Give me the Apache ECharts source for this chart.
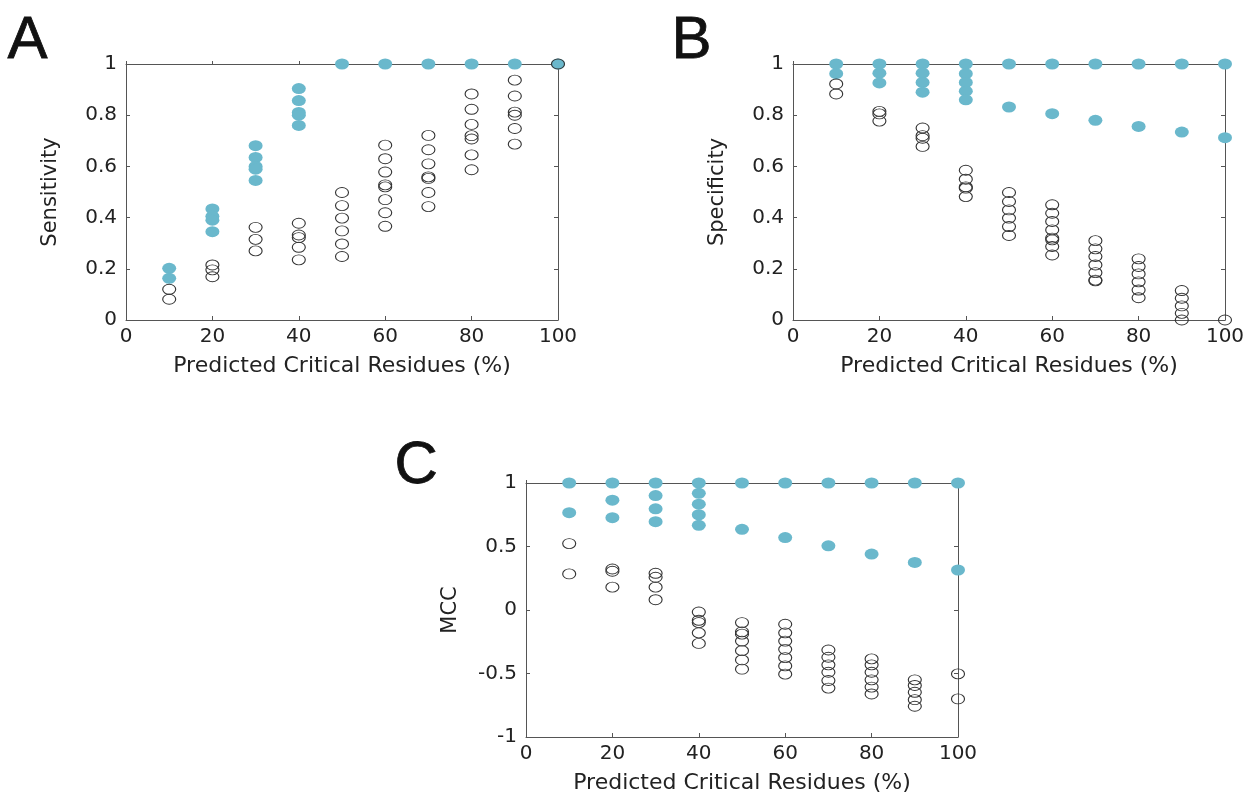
<!DOCTYPE html>
<html>
<head>
<meta charset="utf-8">
<script src="https://cdn.jsdelivr.net/npm/echarts@6/dist/echarts.min.js"></script>
<style>
html,body{margin:0;padding:0;background:#fff;}
#c{width:1251px;height:795px;}
</style>
</head>
<body>
<div id="c"></div>
<script>
// x categories (Predicted Critical Residues %)
var xs = [10, 20, 30, 40, 50, 60, 70, 80, 90, 100];

// Panel A: Sensitivity
var sensFilled = [
  [0.202, 0.163],
  [0.434, 0.405, 0.39, 0.345],
  [0.681, 0.635, 0.60, 0.589, 0.545],
  [0.904, 0.857, 0.811, 0.80, 0.76],
  [1], [1], [1], [1], [1], [1]
];
var sensOpen = [
  [0.12, 0.081],
  [0.215, 0.196, 0.169],
  [0.362, 0.315, 0.27],
  [0.378, 0.332, 0.322, 0.284, 0.235],
  [0.498, 0.447, 0.398, 0.348, 0.297, 0.248],
  [0.683, 0.63, 0.578, 0.528, 0.52, 0.47, 0.419, 0.366],
  [0.721, 0.665, 0.61, 0.559, 0.553, 0.498, 0.443],
  [0.883, 0.823, 0.764, 0.72, 0.707, 0.645, 0.587],
  [0.937, 0.875, 0.812, 0.80, 0.748, 0.687],
  [1]
];

// Panel B: Specificity
var specFilled = [
  [1, 0.962],
  [1, 0.964, 0.926],
  [1, 0.964, 0.928, 0.89],
  [1, 0.962, 0.928, 0.894, 0.86],
  [1, 0.832],
  [1, 0.806],
  [1, 0.78],
  [1, 0.756],
  [1, 0.734],
  [1, 0.712]
];
var specOpen = [
  [0.922, 0.883],
  [0.815, 0.805, 0.777],
  [0.75, 0.72, 0.71, 0.678],
  [0.585, 0.55, 0.52, 0.515, 0.482],
  [0.498, 0.463, 0.43, 0.398, 0.365, 0.33],
  [0.45, 0.417, 0.385, 0.352, 0.32, 0.313, 0.287, 0.254],
  [0.31, 0.278, 0.248, 0.215, 0.185, 0.156, 0.153],
  [0.239, 0.209, 0.18, 0.149, 0.117, 0.087],
  [0.115, 0.085, 0.055, 0.026, 0.0],
  [0.0]
];

// Panel C: MCC
var mccFilled = [
  [1, 0.766],
  [1, 0.865, 0.727],
  [1, 0.901, 0.797, 0.695],
  [1, 0.919, 0.833, 0.75, 0.667],
  [1, 0.635],
  [1, 0.57],
  [1, 0.505],
  [1, 0.44],
  [1, 0.375],
  [1, 0.315]
];
var mccOpen = [
  [0.523, 0.284],
  [0.323, 0.305, 0.18],
  [0.289, 0.258, 0.18, 0.081],
  [-0.016, -0.081, -0.099, -0.18, -0.263],
  [-0.099, -0.172, -0.19, -0.245, -0.32, -0.393, -0.466],
  [-0.112, -0.18, -0.245, -0.31, -0.375, -0.44, -0.505],
  [-0.315, -0.372, -0.432, -0.49, -0.555, -0.615],
  [-0.385, -0.432, -0.49, -0.55, -0.607, -0.661],
  [-0.55, -0.594, -0.648, -0.706, -0.758],
  [-0.503, -0.70]
];

var panelLetters = ['A', 'B', 'C'];
var yNames = ['Sensitivity', 'Specificity', 'MCC'];
var xName = 'Predicted Critical Residues (%)';

function flatten(groups) {
  var out = [];
  groups.forEach(function (vals, i) {
    vals.forEach(function (v) { out.push([xs[i], v]); });
  });
  return out;
}

var FONT = '"DejaVu Sans", Verdana, sans-serif';
var LFONT = '"Liberation Sans", Arial, Helvetica, sans-serif';
var AXC = '#555';
var TXT = '#222';
var FILL = '#6ab8cc';

var grids = [
  {left: 126, top: 64, width: 432, height: 256},
  {left: 793, top: 64, width: 432, height: 256},
  {left: 526, top: 483, width: 432, height: 256}
];
var yRanges = [[0, 1, 0.2], [0, 1, 0.2], [-1, 1, 0.5]];

var xAxes = [], yAxes = [], series = [];
grids.forEach(function (g, i) {
  xAxes.push({
    gridIndex: i, type: 'value', min: 0, max: 100, interval: 20, position: 'bottom',
    name: xName, nameLocation: 'middle', nameGap: 35,
    nameTextStyle: {fontFamily: FONT, fontSize: 22, color: TXT},
    axisLine: {show: true, onZero: false, lineStyle: {color: AXC, width: 1}},
    axisTick: {show: true, inside: true, length: 4, lineStyle: {color: AXC}},
    axisLabel: {fontFamily: FONT, fontSize: 20, color: TXT, margin: 7},
    splitLine: {show: false}
  });
  xAxes.push({
    gridIndex: i, type: 'value', min: 0, max: 100, interval: 20, position: 'top',
    axisLine: {show: true, onZero: false, lineStyle: {color: AXC, width: 1}},
    axisTick: {show: true, inside: false, length: 3, lineStyle: {color: AXC}},
    axisLabel: {show: false}, splitLine: {show: false}
  });
  var r = yRanges[i];
  yAxes.push({
    gridIndex: i, type: 'value', min: r[0], max: r[1], interval: r[2], position: 'left',
    name: yNames[i], nameLocation: 'middle', nameGap: 65,
    nameTextStyle: {fontFamily: FONT, fontSize: 21, color: TXT},
    axisLine: {show: true, onZero: false, lineStyle: {color: AXC, width: 1}},
    axisTick: {show: true, inside: true, length: 4, lineStyle: {color: AXC}},
    axisLabel: {fontFamily: FONT, fontSize: 20, color: TXT, margin: 9},
    splitLine: {show: false}
  });
  yAxes.push({
    gridIndex: i, type: 'value', min: r[0], max: r[1], interval: r[2], position: 'right',
    axisLine: {show: true, onZero: false, lineStyle: {color: AXC, width: 1}},
    axisTick: {show: true, inside: true, length: 4, lineStyle: {color: AXC}},
    axisLabel: {show: false}, splitLine: {show: false}
  });
});

var filledSets = [sensFilled, specFilled, mccFilled];
var openSets = [sensOpen, specOpen, mccOpen];
for (var i = 0; i < 3; i++) {
  series.push({
    type: 'scatter', xAxisIndex: i * 2, yAxisIndex: i * 2,
    data: flatten(filledSets[i]), symbol: 'circle', symbolSize: [14, 11],
    clip: false, silent: true,
    itemStyle: {color: FILL, opacity: 1}
  });
  series.push({
    type: 'scatter', xAxisIndex: i * 2, yAxisIndex: i * 2,
    data: flatten(openSets[i]), symbol: 'circle', symbolSize: [13, 10],
    clip: false, silent: true,
    itemStyle: {color: 'rgba(0,0,0,0)', borderColor: '#333', borderWidth: 1, opacity: 1}
  });
}

var letterPos = [[7, 11], [671, 11], [394, 436]];
var graphics = panelLetters.map(function (L, i) {
  return {
    type: 'text', left: letterPos[i][0], top: letterPos[i][1],
    style: {text: L, font: '60px ' + LFONT, fill: '#111', stroke: '#111', lineWidth: 0.8}
  };
});

var chart = echarts.init(document.getElementById('c'), null, {renderer: 'canvas'});
chart.setOption({
  animation: false,
  backgroundColor: '#fff',
  grid: grids,
  xAxis: xAxes,
  yAxis: yAxes,
  series: series,
  graphic: graphics
});
</script>
</body>
</html>
